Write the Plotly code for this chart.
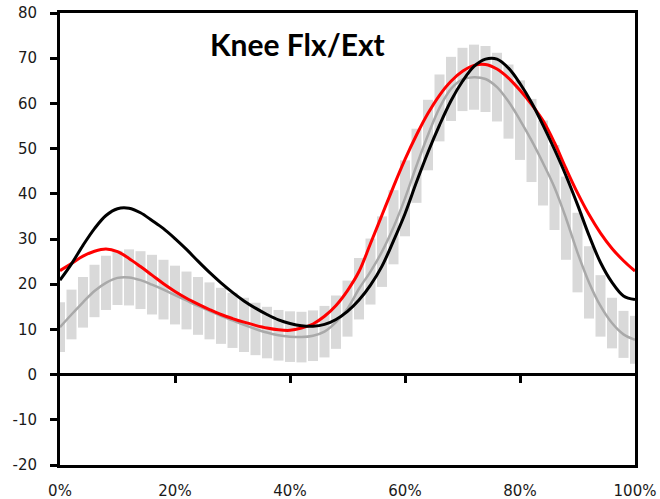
import plotly.graph_objects as go

# Gait cycle (% of stride), sampled every 2 %
cycle_pct = list(range(0, 101, 2))

# Knee flexion/extension angle (degrees)
subject_black = [
    20.9, 24.5, 28.6, 32.3, 35.2, 36.7, 36.8, 35.8, 34.1, 32.3,
    30.1, 27.7, 25.1, 22.6, 20.3, 18.2, 16.3, 14.7, 13.3, 12.1,
    11.3, 10.8, 10.7, 11.1, 12.2, 14.0, 16.5, 19.8, 24.0, 29.6,
    35.6, 42.6, 49.2, 55.2, 60.6, 64.9, 68.2, 69.8, 69.8, 67.8,
    64.4, 60.2, 55.2, 49.8, 44.0, 37.6, 30.8, 24.8, 20.4, 17.4,
    16.6,
]
subject_red = [
    23.0, 24.6, 26.2, 27.3, 27.8, 27.2, 25.7, 23.9, 22.0, 20.1,
    18.4, 16.9, 15.6, 14.4, 13.3, 12.4, 11.6, 10.9, 10.3, 9.9,
    9.8, 10.3, 11.2, 12.9, 15.3, 18.6, 22.8, 29.0, 35.3, 41.6,
    47.6, 53.0, 57.8, 61.8, 64.9, 67.1, 68.4, 68.6, 67.6, 65.6,
    62.9, 59.8, 56.2, 51.3, 45.6, 40.2, 35.4, 31.3, 27.9, 25.2,
    22.9,
]
normal_mean = [
    10.5, 13.3, 16.0, 18.5, 20.3, 21.4, 21.5, 20.9, 19.9, 18.8,
    17.6, 16.4, 15.2, 14.1, 13.0, 12.0, 11.0, 10.1, 9.3, 8.7,
    8.4, 8.3, 8.6, 9.5, 11.6, 14.6, 19.0, 22.8, 27.2, 32.6,
    39.0, 46.2, 53.0, 59.0, 63.2, 65.3, 65.8, 65.4, 63.6, 60.4,
    56.3, 51.8, 46.8, 41.4, 34.6, 27.0, 20.4, 15.2, 11.4, 8.9,
    7.7,
]
normal_sd = [
    5.5, 5.5, 5.6, 5.8, 6.0, 6.0, 6.2, 6.4, 6.6, 6.6,
    6.5, 6.4, 6.4, 6.3, 6.2, 6.1, 6.0, 5.8, 5.7, 5.6,
    5.6, 5.6, 5.6, 5.7, 5.9, 6.2, 6.8, 7.3, 7.8, 8.2,
    8.4, 8.2, 7.8, 7.4, 7.1, 7.0, 7.2, 7.3, 7.6, 8.2,
    8.8, 9.2, 9.4, 9.4, 9.2, 8.8, 8.0, 6.8, 5.6, 5.2,
    5.3,
]

x_tick_vals = [0, 20, 40, 60, 80, 100]
x_tick_text = ["0%", "20%", "40%", "60%", "80%", "100%"]
y_tick_vals = [-20, -10, 0, 10, 20, 30, 40, 50, 60, 70, 80]
y_tick_text = ["-20", "-10", "0", "10", "20", "30", "40", "50", "60", "70", "80"]
chart_title = "Knee Flx/Ext"

fig = go.Figure()

# Normal band: mean +/- SD drawn as thick vertical bars
fig.add_trace(go.Scatter(
    x=cycle_pct, y=normal_mean, mode="markers",
    marker=dict(size=1, opacity=0),
    error_y=dict(type="data", array=normal_sd, color="#d9d9d9",
                 thickness=10, width=0),
    hoverinfo="skip", showlegend=False,
))
fig.add_trace(go.Scatter(
    x=cycle_pct, y=normal_mean, mode="lines",
    line=dict(color="#a9a9a9", width=2.5, shape="spline"),
    showlegend=False,
))
fig.add_trace(go.Scatter(
    x=cycle_pct, y=subject_red, mode="lines",
    line=dict(color="#ff0000", width=3, shape="spline"),
    showlegend=False,
))
fig.add_trace(go.Scatter(
    x=cycle_pct, y=subject_black, mode="lines",
    line=dict(color="#000000", width=3, shape="spline"),
    showlegend=False,
))

# Dummy trace so the secondary x axis (tick marks on the zero line) is drawn
fig.add_trace(go.Scatter(
    x=[0, 100], y=[0, 0], xaxis="x2", mode="lines",
    line=dict(width=0), hoverinfo="skip", showlegend=False,
))

fig.add_annotation(
    x=41.3, y=73.1, xref="x", yref="y", text=chart_title, showarrow=False,
    font=dict(family="Lato", size=30, color="#000000", weight="bold"),
)

tick_font = dict(family="DejaVu Sans", size=15, color="#1a1a1a")

fig.update_layout(
    width=660, height=499,
    margin=dict(l=60, r=25, t=13, b=34, autoexpand=False),
    paper_bgcolor="white", plot_bgcolor="white",
    xaxis=dict(
        range=[0, 100], tickvals=x_tick_vals, ticktext=x_tick_text,
        ticks="", showgrid=False, zeroline=False, automargin=False,
        showline=True, linecolor="black", linewidth=3, mirror=True,
        tickfont=tick_font, ticklabelstandoff=10,
    ),
    xaxis2=dict(
        range=[0, 100], overlaying="x", anchor="free", position=0.2,
        side="bottom", tickvals=[20, 40, 60, 80], ticks="outside",
        ticklen=7, tickwidth=3, tickcolor="black", automargin=False,
        showticklabels=False, showgrid=False, zeroline=False,
        showline=False,
    ),
    yaxis=dict(
        range=[-20, 80], tickvals=y_tick_vals, ticktext=y_tick_text,
        ticks="outside",
        ticklen=7, tickwidth=3, tickcolor="black", automargin=False,
        showgrid=False, zeroline=True, zerolinecolor="black",
        zerolinewidth=3,
        showline=True, linecolor="black", linewidth=3, mirror=True,
        tickfont=tick_font, ticklabelstandoff=10,
    ),
)

fig.write_html("out.html")
